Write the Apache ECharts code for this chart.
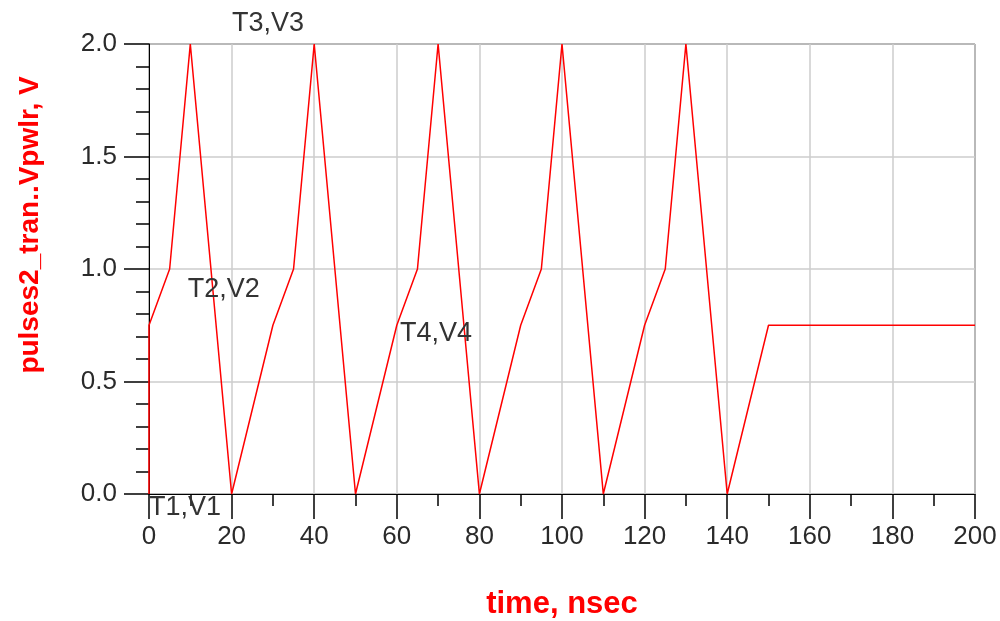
<!DOCTYPE html>
<html>
<head>
<meta charset="utf-8">
<script src="https://cdn.jsdelivr.net/npm/echarts@6/dist/echarts.min.js"></script>
<style>html,body{margin:0;padding:0;background:#fff}#c{width:1000px;height:621px}</style>
</head>
<body>
<div id="c"></div>
<script>
// waveform breakpoints (time in nsec, voltage in V)
var timeNs = [0, 0, 5, 10, 20, 30, 35, 40, 50, 60, 65, 70, 80, 90, 95, 100, 110, 120, 125, 130, 140, 150, 200];
var voltV  = [0, 0.75, 1.0, 2.0, 0, 0.75, 1.0, 2.0, 0, 0.75, 1.0, 2.0, 0, 0.75, 1.0, 2.0, 0, 0.75, 1.0, 2.0, 0, 0.75, 0.75];
var xTicks = [0, 20, 40, 60, 80, 100, 120, 140, 160, 180, 200];
var yTicks = [0.0, 0.5, 1.0, 1.5, 2.0];
var markerNames = ['T1,V1', 'T2,V2', 'T3,V3', 'T4,V4'];
var markerT = [0, 9.4, 20.1, 60.8];
var markerV = [-0.058, 0.907, 2.089, 0.711];

var data = timeNs.map(function (t, i) { return [t, voltV[i]]; });
var chart = echarts.init(document.getElementById('c'), null, {renderer: 'canvas'});
var font = '"Liberation Sans", Arial, sans-serif';
var yTitle = {
  type: 'text', x: 30, y: 225, rotation: Math.PI / 2,
  style: {text: 'pulses2_tran..Vpwlr, V', fill: '#ff0000', font: 'bold 28px ' + font, textAlign: 'center', textVerticalAlign: 'middle'}
};
chart.setOption({
  animation: false,
  backgroundColor: '#fff',
  grid: {left: 149, right: 25, top: 44, bottom: 127, outerBoundsMode: 'none', containLabel: false,
    show: true, borderColor: '#000', borderWidth: 1, backgroundColor: 'transparent'},
  xAxis: {
    type: 'value', min: xTicks[0], max: xTicks[xTicks.length - 1], interval: 20,
    name: 'time, nsec', nameLocation: 'middle', nameGap: 95,
    nameTextStyle: {color: '#ff0000', fontWeight: 'bold', fontSize: 31, fontFamily: font},
    axisLine: {show: true, lineStyle: {color: '#000', width: 1}},
    axisTick: {show: true, inside: false, length: 25, lineStyle: {color: '#000', width: 1.5}},
    minorTick: {show: true, splitNumber: 2, length: 12, lineStyle: {color: '#000', width: 1.5}},
    axisLabel: {color: '#2a2a2a', fontSize: 26, fontFamily: font, margin: 30,
      formatter: function (v) { return xTicks.indexOf(v) >= 0 ? String(v) : ''; }},
    splitLine: {show: true, lineStyle: {color: '#cccccc', width: 1.5}}
  },
  yAxis: {
    type: 'value', min: yTicks[0], max: yTicks[yTicks.length - 1], interval: 0.5,
    axisLine: {show: true, lineStyle: {color: '#000', width: 1}},
    axisTick: {show: true, inside: false, length: 25, lineStyle: {color: '#000', width: 1.5}},
    minorTick: {show: true, splitNumber: 5, length: 13, lineStyle: {color: '#000', width: 1.5}},
    axisLabel: {color: '#2a2a2a', fontSize: 26, fontFamily: font, margin: 32,
      formatter: function (v) { return v.toFixed(1); }},
    splitLine: {show: true, lineStyle: {color: '#cccccc', width: 1.5}}
  },
  series: [{
    type: 'line', data: data, showSymbol: false, symbol: 'none',
    lineStyle: {color: '#ff0000', width: 1.5}, clip: false
  }],
  graphic: [yTitle]
});
var extra = markerNames.map(function (name, i) {
  var p = chart.convertToPixel({gridIndex: 0}, [markerT[i], markerV[i]]);
  return {type: 'text', x: p[0], y: p[1], z: 10,
    style: {text: name, fill: '#333', font: '27px ' + font, textAlign: 'left', textVerticalAlign: 'middle'}};
});
chart.setOption({graphic: [yTitle].concat(extra)}, {replaceMerge: ['graphic']});
</script>
</body>
</html>
